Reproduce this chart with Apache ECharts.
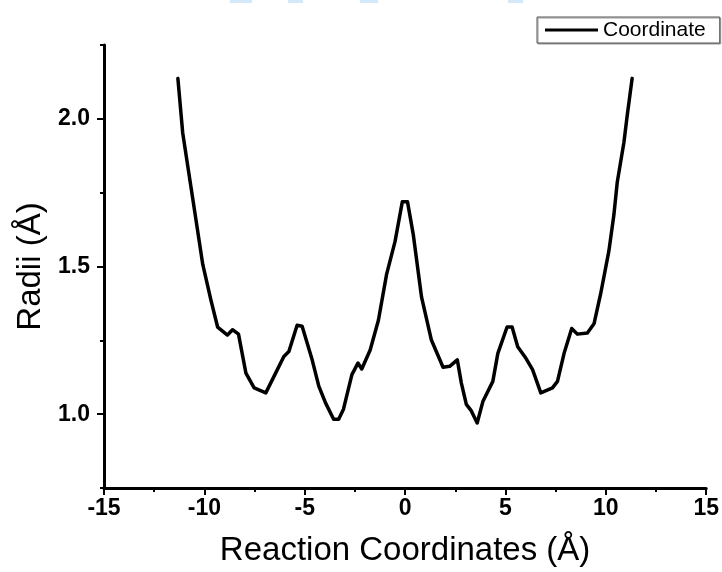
<!DOCTYPE html>
<html>
<head>
<meta charset="utf-8">
<script src="https://cdn.jsdelivr.net/npm/echarts@6/dist/echarts.min.js"></script>
<style>
html,body{margin:0;padding:0;background:#fff;}
#chart{width:722px;height:572px;}
</style>
</head>
<body>
<div id="chart"></div>
<script>
// Reaction coordinate (Å)
var xValues = [-11.32,-11.08,-10.83,-10.58,-10.08,-9.67,-9.34,-8.85,-8.60,-8.30,-7.93,-7.52,-6.94,-6.45,-6.04,-5.79,-5.38,-5.13,-4.63,-4.30,-3.97,-3.56,-3.31,-3.07,-2.65,-2.35,-2.16,-1.74,-1.33,-0.92,-0.50,-0.14,0.12,0.41,0.82,1.31,1.89,2.22,2.60,2.80,3.05,3.30,3.59,3.88,4.37,4.62,5.08,5.33,5.61,6.02,6.35,6.76,7.34,7.59,7.92,8.30,8.58,9.08,9.41,9.74,10.15,10.40,10.57,10.90,11.06,11.31];
// Radii (Å)
var radiiValues = [2.137,1.953,1.841,1.730,1.507,1.385,1.295,1.268,1.286,1.271,1.139,1.089,1.072,1.139,1.195,1.212,1.301,1.298,1.184,1.095,1.039,0.983,0.983,1.017,1.134,1.173,1.153,1.217,1.318,1.474,1.585,1.719,1.719,1.607,1.396,1.251,1.159,1.162,1.184,1.106,1.033,1.011,0.970,1.044,1.111,1.206,1.295,1.295,1.228,1.189,1.151,1.072,1.089,1.111,1.206,1.290,1.271,1.275,1.306,1.407,1.552,1.674,1.786,1.920,2.009,2.137];
var seriesName = 'Coordinate';
var yLabelValues = [1.0, 1.5, 2.0];
var xTitle = 'Reaction Coordinates (Å)';
var yTitle = 'Radii (Å)';

var data = xValues.map(function (x, i) { return [x, radiiValues[i]]; });

var chart = echarts.init(document.getElementById('chart'), null, {renderer: 'canvas'});
var font = 'Liberation Sans, Arial, sans-serif';
chart.setOption({
  animation: false,
  backgroundColor: '#fff',
  grid: {left: 104, right: 12.5, top: 45, bottom: 79.3, containLabel: false},
  legend: {
    data: [seriesName],
    left: 537, top: 17,
    padding: [2, 14, 2, 8],
    icon: 'rect', itemWidth: 53, itemHeight: 3,
    backgroundColor: '#fff',
    borderColor: '#555', borderWidth: 1,
    shadowColor: '#999', shadowBlur: 0, shadowOffsetX: 1, shadowOffsetY: 1,
    textStyle: {fontFamily: font, fontSize: 21, color: '#000', lineHeight: 22}
  },
  xAxis: {
    type: 'value', min: -15, max: 15, interval: 5,
    name: xTitle, nameLocation: 'middle', nameGap: 46,
    nameTextStyle: {fontFamily: font, fontSize: 33, color: '#000'},
    axisLine: {show: true, onZero: false, lineStyle: {color: '#000', width: 3}},
    axisTick: {show: true, length: 7, lineStyle: {color: '#000', width: 2}},
    minorTick: {show: true, splitNumber: 2, length: 4, lineStyle: {color: '#000', width: 2}},
    axisLabel: {fontFamily: font, fontSize: 23, fontWeight: 'bold', color: '#000', margin: 9},
    splitLine: {show: false}
  },
  yAxis: [{
    type: 'value', min: 0.75, max: 2.25, interval: 0.25,
    name: yTitle, nameLocation: 'middle', nameGap: 57,
    nameTextStyle: {fontFamily: font, fontSize: 33, color: '#000'},
    axisLine: {show: true, onZero: false, lineStyle: {color: '#000', width: 3}},
    axisTick: {show: true, length: 4, lineStyle: {color: '#000', width: 2}},
    axisLabel: {customValues: yLabelValues, formatter: function (v) { return v.toFixed(1); },
      fontFamily: font, fontSize: 23, fontWeight: 'bold', color: '#000', margin: 14},
    splitLine: {show: false}
  }, {
    type: 'value', min: 0.75, max: 2.25, interval: 0.25, position: 'left',
    axisLine: {show: false, onZero: false},
    axisTick: {show: true, customValues: yLabelValues, length: 7, lineStyle: {color: '#000', width: 2}},
    axisLabel: {show: false},
    splitLine: {show: false}
  }],
  graphic: [
    {type: 'rect', shape: {x: 230, y: 0, width: 22, height: 3}, style: {fill: '#d3e8f8'}},
    {type: 'rect', shape: {x: 288, y: 0, width: 15, height: 3}, style: {fill: '#d3e8f8'}},
    {type: 'rect', shape: {x: 360, y: 0, width: 18, height: 3}, style: {fill: '#d3e8f8'}},
    {type: 'rect', shape: {x: 508, y: 0, width: 15, height: 3}, style: {fill: '#d3e8f8'}}
  ],
  series: [{
    name: seriesName, type: 'line', data: data,
    showSymbol: false, smooth: false,
    lineStyle: {color: '#000', width: 3.5, join: 'round', cap: 'round'},
    itemStyle: {color: '#000'}
  }]
});
</script>
</body>
</html>
